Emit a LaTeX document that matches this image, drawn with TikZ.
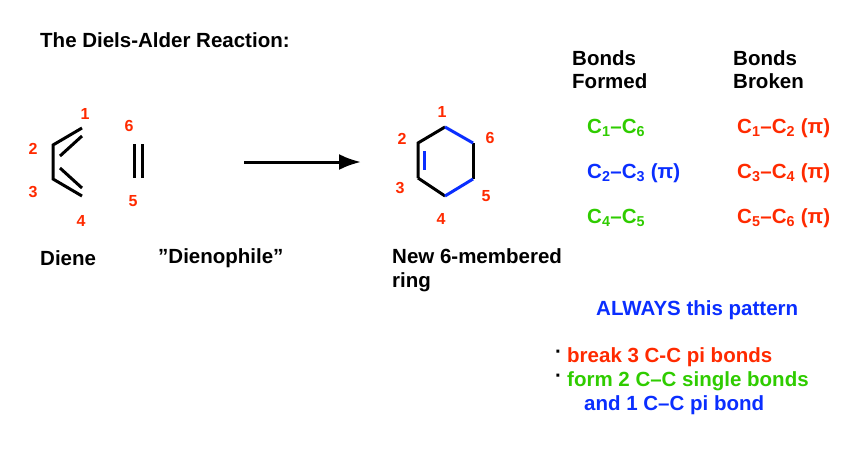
\documentclass[tikz,border=0pt]{standalone}
\usepackage{fontspec}
\setmainfont{Liberation Sans}
\usetikzlibrary{arrows.meta,positioning,calc}
\definecolor{numred}{HTML}{FF2A00}
\definecolor{formgreen}{HTML}{2FCC00}
\definecolor{piblue}{HTML}{0A2EFF}
\newcommand{\sub}[1]{\textsubscript{#1}}
\tikzset{
  num/.style={text=numred, font=\bfseries\fontsize{16}{18}\selectfont, inner sep=0pt},
  lbl/.style={font=\bfseries\fontsize{20.5}{24}\selectfont, inner sep=0pt, anchor=west},
  tbl/.style={font=\bfseries\fontsize{20.5}{23}\selectfont, inner sep=0pt, anchor=west},
  bond/.style={line width=3pt},
}
\begin{document}
\begin{tikzpicture}[x=1pt,y=-1pt]
  \useasboundingbox (0,0) rectangle (862,456);
  % title
  \node[lbl] (title) at (40,40) {The Diels-Alder Reaction:};
  % diene
  \coordinate (d1) at (82,128);
  \coordinate (d2) at (53,145);
  \coordinate (d3) at (53,179);
  \coordinate (d4) at (82,196);
  \draw[bond] (d1) -- (d2) -- (d3) -- (d4);
  \draw[bond] ($(d1)+(0,8)$) -- ($(d2)+(7,11)$);
  \draw[bond] ($(d4)+(0,-8)$) -- ($(d3)+(7,-11)$);
  \node[num] (n1) at (85,114) {1};
  \node[num] (n2) at (33,149) {2};
  \node[num] (n3) at (33,192) {3};
  \node[num] (n4) at (81,221) {4};
  % dienophile
  \coordinate (e6) at (134,144);
  \coordinate (e5) at (134,178);
  \draw[bond] (e6) -- (e5);
  \draw[bond] ($(e6)+(8,0)$) -- ($(e5)+(8,0)$);
  \node[num] (n6) at (129,126) {6};
  \node[num] (n5) at (133,201) {5};
  % arrow
  \coordinate (arrS) at (244,162);
  \coordinate (arrE) at (361,162);
  \draw[line width=3pt,-{Latex[length=22pt,width=16pt]}] (arrS) -- (arrE);
  % product ring
  \coordinate (r1) at (445,127);
  \coordinate (r2) at (418,143);
  \coordinate (r3) at (418,178);
  \coordinate (r4) at (445,196);
  \coordinate (r5) at (473,179);
  \coordinate (r6) at (473,143);
  \draw[bond] (r6) -- (r5);
  \draw[bond] (r3) -- (r4);
  \draw[bond] (r1) -- (r2) -- (r3);
  \draw[bond, piblue] (r1) -- (r6);
  \draw[bond, piblue] (r4) -- (r5);
  \draw[bond, piblue] ($(r2)+(6,8)$) -- ($(r3)+(6,-8)$);
  \node[num] (m1) at (442,112) {1};
  \node[num] (m2) at (402,139) {2};
  \node[num] (m6) at (490,138) {6};
  \node[num] (m3) at (400,188) {3};
  \node[num] (m5) at (486,196) {5};
  \node[num] (m4) at (441,219) {4};
  % captions
  \node[lbl] (diene) at (40,258) {Diene};
  \node[lbl] (dienophile) at (158,258) {\symbol{34}Dienophile\symbol{34}};
  \node[lbl, align=left, anchor=north west] (ring) at (392,248) {New 6-membered\\ring};
  % table
  \node[tbl, align=left, anchor=north west] (formed) at (572,50) {Bonds\\Formed};
  \node[tbl, align=left, anchor=north west] (broken) at (733,50) {Bonds\\Broken};
  \node[tbl, text=formgreen] (f1) at (587,128) {C\sub{1}–C\sub{6}};
  \node[tbl, text=piblue] (f2) at (587,173) {C\sub{2}–C\sub{3} (π)};
  \node[tbl, text=formgreen] (f3) at (587,218) {C\sub{4}–C\sub{5}};
  \node[tbl, text=numred] (b1) at (737,128) {C\sub{1}–C\sub{2} (π)};
  \node[tbl, text=numred] (b2) at (737,173) {C\sub{3}–C\sub{4} (π)};
  \node[tbl, text=numred] (b3) at (737,218) {C\sub{5}–C\sub{6} (π)};
  \node[tbl, text=piblue] (always) at (596,310) {ALWAYS this pattern};
  % summary
  \node[tbl] (bul1) at (555,354) {·};
  \node[tbl] (bul2) at (555,378) {·};
  \node[tbl, text=numred] (s1) at (567,357) {break 3 C-C pi bonds};
  \node[tbl, text=formgreen] (s2) at (567,381) {form 2 C–C single bonds};
  \node[tbl, text=piblue] (s3) at (584,405) {and 1 C–C pi bond};
\end{tikzpicture}
\end{document}
